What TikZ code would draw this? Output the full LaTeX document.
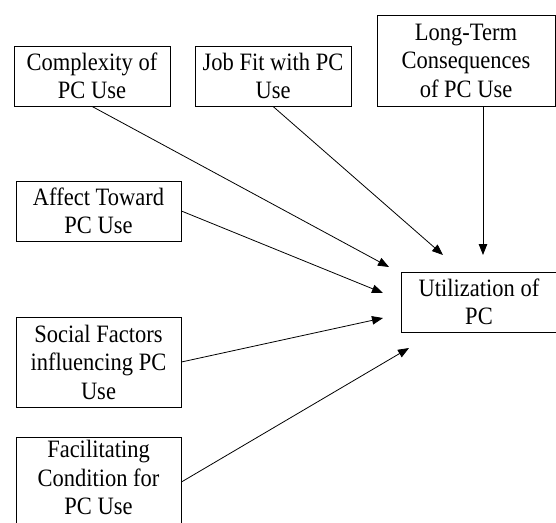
\documentclass[tikz,border=0pt]{standalone}
\usepackage{fontspec}
\setmainfont[FakeStretch=0.9]{Liberation Serif}
\usetikzlibrary{arrows.meta}

\begin{document}
\begin{tikzpicture}[x=1pt,y=-1pt,line width=0.8pt,>={Triangle[length=11pt,width=8.5pt]},
		box/.style = {draw,align=center,inner sep=0pt,font=\fontsize{25}{28.5}\selectfont}]
			\useasboundingbox (0, 0) rectangle (556, 522);
			% factors
			\node (cx)  at (92, 76)     [box,minimum width=156pt,minimum height=60pt]  {Complexity of\\PC Use};
			\node (jf)  at (273, 76)    [box,minimum width=156pt,minimum height=60pt]  {Job Fit with PC\\Use};
			\node (lt)  at (466, 60.5)  [box,minimum width=178pt,minimum height=91pt]  {Long-Term\\Consequences\\of PC Use};
			\node (af)  at (98.5, 211)  [box,minimum width=165pt,minimum height=60pt]  {Affect Toward\\PC Use};
			\node (sf)  at (98.5, 362)  [box,minimum width=165pt,minimum height=90pt]  {Social Factors\\influencing PC\\Use};
			\node (fc)  at (98.5, 482)  [box,minimum width=165pt,minimum height=90pt,text depth=9pt]  {Facilitating\\Condition for\\PC Use};
			% outcome
			\node (ut)  at (479, 302)   [box,minimum width=156pt,minimum height=60pt]  {Utilization of\\PC};
			% arrow ends in front of the outcome box
			\coordinate (incx) at (389, 267);
			\coordinate (injf) at (443, 255);
			\coordinate (inlt) at (483, 255);
			\coordinate (inaf) at (383, 293);
			\coordinate (insf) at (383, 318);
			\coordinate (infc) at (409, 348);
			\draw      [->] (cx.south) -- (incx);
			\draw      [->] (jf.south) -- (injf);
			\draw      [->] (lt.south -| inlt) -- (inlt);
			\draw      [->] (af.east) -- (inaf);
			\draw      [->] (sf.east) -- (insf);
			\draw      [->] (fc.east) -- (infc);
		\end{tikzpicture}
\end{document}
